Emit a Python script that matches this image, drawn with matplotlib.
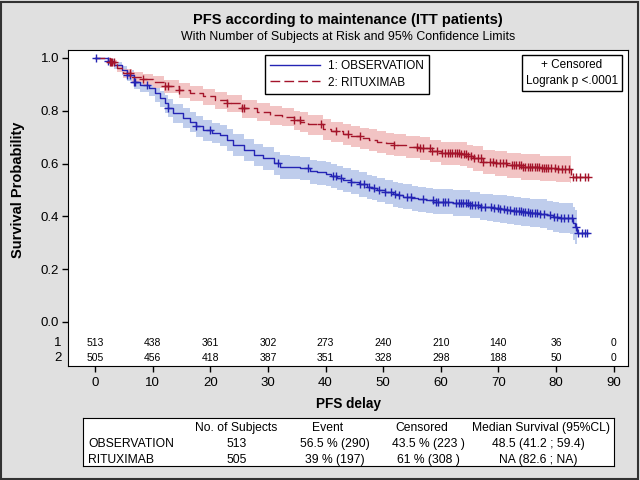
import numpy as np
import matplotlib
matplotlib.use("Agg")
import matplotlib.pyplot as plt
from matplotlib.patches import Rectangle

plt.rcParams['font.family'] = ['Liberation Sans', 'DejaVu Sans']

# Kaplan-Meier steps (time, survival, 95% limits)
obs_t = [0, 2.3, 3.2, 4.6, 5.5, 6.7, 7.8, 9.3, 10.4, 11.3, 12.2, 12.6, 13.6, 15.3,
         16.5, 17.5, 18.8, 20.3, 21.7, 22.9, 24.0, 25.8, 27.5, 29.2, 31.0, 32.1,
         33.9, 35.6, 37.3, 38.5, 40.0, 41.0, 42.0, 43.0, 44.5, 45.8, 47.2, 48.0,
         49.0, 50.3, 51.7, 52.6, 53.5, 55.0, 56.0, 57.4, 58.7, 60.0, 62.2, 63.4,
         65.0, 66.8, 68.0, 69.0, 70.3, 71.5, 72.7, 74.0, 75.5, 77.3, 78.5, 79.5,
         80.5, 82.5, 83.0, 83.3, 83.6]
obs_s = [1.000, 0.989, 0.973, 0.955, 0.936, 0.910, 0.898, 0.885, 0.866, 0.847, 0.828,
         0.812, 0.790, 0.774, 0.759, 0.742, 0.727, 0.717, 0.708, 0.689, 0.670, 0.652,
         0.633, 0.620, 0.601, 0.588, 0.585, 0.582, 0.570, 0.566, 0.560, 0.553, 0.544,
         0.538, 0.530, 0.522, 0.512, 0.507, 0.500, 0.493, 0.485, 0.480, 0.475, 0.469,
         0.465, 0.460, 0.456, 0.456, 0.452, 0.450, 0.444, 0.437, 0.434, 0.432, 0.428,
         0.424, 0.421, 0.418, 0.414, 0.410, 0.404, 0.397, 0.395, 0.393, 0.375, 0.360,
         0.337]
obs_lo = [1.000, 0.977, 0.957, 0.935, 0.913, 0.884, 0.870, 0.855, 0.834, 0.813, 0.793,
          0.776, 0.753, 0.736, 0.720, 0.702, 0.686, 0.676, 0.666, 0.647, 0.627, 0.609,
          0.589, 0.576, 0.556, 0.543, 0.540, 0.537, 0.524, 0.520, 0.514, 0.507, 0.498,
          0.491, 0.483, 0.475, 0.465, 0.460, 0.453, 0.445, 0.437, 0.432, 0.427, 0.421,
          0.416, 0.411, 0.407, 0.407, 0.402, 0.400, 0.393, 0.386, 0.382, 0.380, 0.375,
          0.371, 0.367, 0.364, 0.359, 0.354, 0.347, 0.339, 0.337, 0.334, 0.312, 0.294,
          0.268]
obs_hi = [1.000, 0.996, 0.985, 0.970, 0.954, 0.933, 0.922, 0.911, 0.893, 0.876, 0.859,
          0.844, 0.824, 0.809, 0.795, 0.779, 0.765, 0.755, 0.747, 0.729, 0.710, 0.693,
          0.675, 0.662, 0.644, 0.631, 0.628, 0.625, 0.614, 0.610, 0.604, 0.597, 0.589,
          0.583, 0.575, 0.567, 0.557, 0.552, 0.545, 0.539, 0.531, 0.526, 0.521, 0.515,
          0.511, 0.507, 0.503, 0.503, 0.500, 0.498, 0.493, 0.486, 0.484, 0.482, 0.479,
          0.476, 0.473, 0.470, 0.467, 0.464, 0.459, 0.453, 0.451, 0.450, 0.436, 0.424,
          0.403]
obs_last = 85.3

rit_t = [0, 2.6, 3.8, 4.9, 6.4, 8.4, 10.1, 11.9, 14.5, 16.5, 18.8, 20.8, 22.9, 25.5,
         28.1, 30.4, 32.5, 34.5, 35.6, 37.0, 39.6, 41.0, 43.0, 44.5, 46.0, 47.5, 49.0,
         50.5, 51.8, 54.0, 56.4, 58.2, 60.0, 63.4, 64.5, 65.6, 67.4, 69.5, 71.5, 74.0,
         77.3, 80.0, 82.5, 82.6]
rit_s = [1.000, 0.984, 0.961, 0.942, 0.929, 0.920, 0.910, 0.894, 0.879, 0.866, 0.854,
         0.841, 0.828, 0.809, 0.797, 0.784, 0.778, 0.765, 0.759, 0.748, 0.730, 0.722,
         0.712, 0.704, 0.696, 0.689, 0.683, 0.676, 0.670, 0.663, 0.658, 0.648, 0.640,
         0.636, 0.628, 0.620, 0.607, 0.601, 0.595, 0.588, 0.582, 0.580, 0.578, 0.550]
rit_lo = [1.000, 0.972, 0.945, 0.923, 0.908, 0.897, 0.885, 0.867, 0.850, 0.836, 0.822,
          0.808, 0.794, 0.774, 0.761, 0.747, 0.741, 0.727, 0.721, 0.709, 0.690, 0.682,
          0.671, 0.663, 0.655, 0.647, 0.641, 0.634, 0.627, 0.620, 0.614, 0.604, 0.595,
          0.590, 0.582, 0.573, 0.560, 0.553, 0.547, 0.539, 0.532, 0.530, 0.527, 0.494]
rit_hi = [1.000, 0.993, 0.975, 0.959, 0.947, 0.940, 0.932, 0.918, 0.905, 0.893, 0.882,
          0.871, 0.859, 0.841, 0.830, 0.818, 0.812, 0.800, 0.794, 0.784, 0.767, 0.759,
          0.750, 0.743, 0.735, 0.729, 0.723, 0.716, 0.710, 0.704, 0.700, 0.690, 0.683,
          0.680, 0.672, 0.665, 0.652, 0.647, 0.641, 0.635, 0.630, 0.628, 0.627, 0.603]
rit_last = 85.6

# censoring times
obs_cens = [0.1, 2.3, 5.5, 6.1, 6.7, 7.0, 9.0, 12.6, 17.5, 20.0, 31.7, 37.0, 41.3,
            41.9, 42.7, 44.5, 46.0, 46.6, 47.6, 48.4, 49.2, 50.3, 51.3, 52.0, 52.8,
            54.2, 54.8, 56.9, 58.6, 59.2, 59.5, 60.4, 60.7, 61.3, 62.7, 63.1, 63.5,
            63.9, 64.3, 64.7, 65.1, 65.5, 65.9, 66.4, 67.0, 67.6, 68.8, 69.2, 69.9,
            70.3, 71.0, 71.5, 72.0, 72.7, 73.1, 73.5, 73.9, 74.3, 74.7, 75.1, 75.5,
            75.9, 76.3, 76.7, 77.3, 78.0, 79.0, 79.6, 80.2, 80.8, 81.4, 82.0, 82.8,
            83.4, 83.8, 84.6, 85.0, 85.3]
rit_cens = [2.6, 2.8, 3.0, 3.2, 6.1, 8.4, 12.2, 12.6, 14.5, 22.9, 25.5, 25.8, 34.5,
            35.5, 39.3, 41.9, 43.9, 45.9, 51.8, 55.9, 56.4, 57.0, 58.1, 58.4, 59.3,
            60.2, 60.8, 61.2, 61.6, 62.0, 62.4, 62.8, 63.2, 63.6, 64.0, 64.4, 64.8,
            65.2, 65.8, 66.4, 67.0, 67.4, 68.5, 69.0, 69.6, 70.2, 70.8, 71.4, 72.3,
            72.7, 73.1, 73.5, 73.9, 74.3, 74.7, 75.1, 75.5, 75.9, 76.3, 76.7, 77.1,
            77.5, 77.9, 78.3, 78.7, 79.2, 79.8, 80.4, 81.0, 81.6, 82.2, 83.0, 83.5,
            84.2, 85.0, 85.6]

risk_times = [0, 10, 20, 30, 40, 50, 60, 70, 80, 90]
risk_obs = [513, 438, 361, 302, 273, 240, 210, 140, 36, 0]
risk_rit = [505, 456, 418, 387, 351, 328, 298, 188, 50, 0]

tab_header = ["No. of Subjects", "Event", "Censored", "Median Survival (95%CL)"]
tab_rows = [["OBSERVATION", "513", "56.5 % (290)", "43.5 % (223 )", "48.5 (41.2 ; 59.4)"],
            ["RITUXIMAB", "505", "39 % (197)", "61 % (308 )", "NA (82.6 ; NA)"]]

blue = "#2424B4"
red = "#A4142A"
blue_band = "#BFCDEC"
red_band = "#F2C4C4"

fig = plt.figure(figsize=(6.4, 4.8), dpi=100, facecolor="#E0E0E0")
fig.patches.append(Rectangle((0.002, 0.003), 0.995, 0.993, transform=fig.transFigure,
                             fill=False, edgecolor="#333333", lw=1.5))

ax = fig.add_axes([68 / 640, 1 - 366 / 480, 560 / 640, 316 / 480])
ax.set_xlim(-4.7, 92.5)
ax.set_ylim(-0.167, 1.03)


def at(tt, ss, c):
    i = np.searchsorted(tt, c, side="right") - 1
    return np.asarray(ss)[i]


ax.fill_between(obs_t, obs_lo, obs_hi, step="post", color=blue_band, lw=0)
ax.fill_between(rit_t, rit_lo, rit_hi, step="post", color=red_band, lw=0)

l1, = ax.step(obs_t + [obs_last], obs_s + [obs_s[-1]], where="post", color=blue, lw=1)
l2, = ax.step(rit_t + [rit_last], rit_s + [rit_s[-1]], where="post", color=red, lw=1,
              dashes=(7, 3))
ax.plot(obs_cens, at(obs_t, obs_s, obs_cens), ls="none", marker="+", ms=5.5, mew=1, color=blue)
ax.plot(rit_cens, at(rit_t, rit_s, rit_cens), ls="none", marker="+", ms=5.5, mew=1, color=red)

ax.set_yticks([0, 0.2, 0.4, 0.6, 0.8, 1.0])
ax.set_yticklabels(["0.0", "0.2", "0.4", "0.6", "0.8", "1.0"])
ax.set_xticks(risk_times)
ax.tick_params(direction="out", length=4.5, width=1, labelsize=9.5, pad=2, color="black")
ax.tick_params(axis="x", pad=3.5)
ax.set_ylabel("Survival Probability", fontsize=10.5, fontweight="bold")
ax.yaxis.set_label_coords(-0.077, (0.5 + 0.167) / 1.197)
ax.set_xlabel("PFS delay", fontsize=9.8, fontweight="bold", labelpad=6)

for x, a, b in zip(risk_times, risk_obs, risk_rit):
    ax.text(x, -0.08, str(a), ha="center", va="center", fontsize=7.5)
    ax.text(x, -0.136, str(b), ha="center", va="center", fontsize=7.5)
ax.text(-0.011, (-0.08 + 0.167) / 1.197, "1", transform=ax.transAxes, ha="right", va="center", fontsize=9.5)
ax.text(-0.011, (-0.136 + 0.167) / 1.197, "2", transform=ax.transAxes, ha="right", va="center", fontsize=9.5)

leg = ax.legend([l1, l2], ["1: OBSERVATION", "2: RITUXIMAB"], loc="upper left",
                bbox_to_anchor=(0.352, 0.984), fancybox=False, edgecolor="black",
                framealpha=1, fontsize=8.5, handlelength=4.2, handletextpad=0.7,
                borderpad=0.45, labelspacing=0.35, borderaxespad=0)
leg.get_frame().set_linewidth(1)

ax.text(0.9, 0.927, "+ Censored\nLogrank p <.0001", transform=ax.transAxes, ha="center",
        va="center", fontsize=8.5, linespacing=1.35,
        bbox=dict(boxstyle="square,pad=0.35", fc="white", ec="black", lw=1))

fig.text(348 / 640, 1 - 20 / 480, "PFS according to maintenance (ITT patients)", ha="center",
         va="center", fontsize=10.5, fontweight="bold")
fig.text(348 / 640, 1 - 37 / 480, "With Number of Subjects at Risk and 95% Confidence Limits",
         ha="center", va="center", fontsize=8.9)

# summary table under the plot
tab = fig.add_axes([83 / 640, 14 / 480, 531 / 640, 48 / 480])
tab.set_xticks([])
tab.set_yticks([])
tab.set_facecolor("white")
head_x = [0.288, 0.461, 0.638, 0.862]
val_x = [0.290, 0.475, 0.650, 0.857]
for x, h in zip(head_x, tab_header):
    tab.text(x, 0.79, h, ha="center", va="center", fontsize=8.7)
for y, row in zip([0.45, 0.12], tab_rows):
    tab.text(0.01, y, row[0], ha="left", va="center", fontsize=8.7)
    for x, v in zip(val_x, row[1:]):
        tab.text(x, y, v, ha="center", va="center", fontsize=8.7)

fig.savefig("out.png", dpi=100, facecolor=fig.get_facecolor())
